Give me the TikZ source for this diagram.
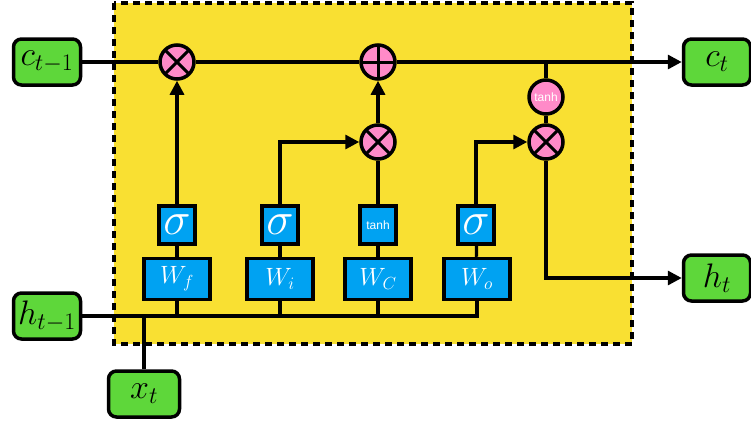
\documentclass[tikz,border=0pt]{standalone}
\usepackage{fix-cm}
\usepackage{fontspec}
\setsansfont{Liberation Sans}
\usetikzlibrary{arrows.meta}
\definecolor{cellyellow}{RGB}{249,224,50}
\definecolor{iogreen}{RGB}{94,215,58}
\definecolor{layerblue}{RGB}{0,162,242}
\definecolor{oppink}{RGB}{255,138,200}

\begin{document}
\begin{tikzpicture}[x=1pt,y=-1pt,
  io/.style={draw,line width=3.5pt,fill=iogreen,rounded corners=8pt,minimum width=67pt,minimum height=46pt,inner sep=0pt,font=\fontsize{34}{34}\selectfont},
  act/.style={draw,line width=3.5pt,fill=layerblue,minimum width=36pt,minimum height=38pt,inner sep=0pt,text=white,font=\fontsize{46}{46}\selectfont},
  wbox/.style={draw,line width=3.5pt,fill=layerblue,minimum width=66pt,minimum height=41pt,inner sep=0pt,text=white,font=\fontsize{25}{25}\selectfont},
  opcircle/.style={circle,draw,line width=3.5pt,fill=oppink,minimum size=34pt,inner sep=0pt},
  mulop/.style={opcircle,path picture={\draw[line width=3pt] (path picture bounding box.north west) -- (path picture bounding box.south east) (path picture bounding box.north east) -- (path picture bounding box.south west);}},
  addop/.style={opcircle,path picture={\draw[line width=3pt] (path picture bounding box.north) -- (path picture bounding box.south) (path picture bounding box.west) -- (path picture bounding box.east);}},
  smalltxt/.style={text=white,font=\sffamily\fontsize{12}{12}\selectfont},
  wire/.style={line width=3.2pt},
  arr/.style={wire,-{Triangle[length=14pt,width=14pt]}}]
\useasboundingbox (0,0) rectangle (751,424);
\draw[line width=3.5pt,dash pattern=on 7pt off 5pt,fill=cellyellow] (114,3) rectangle (632,344);

\node[io] (cprev) at (47,62) {$c_{t-1}$};
\node[io] (cnext) at (717,62) {$c_t$};
\node[io] (hprev) at (47,316) {$h_{t-1}$};
\node[io] (hnext) at (717,278) {$h_t$};
\node[io,minimum width=71pt] (xin) at (144,394) {$x_t$};

\node[mulop] (mulf) at (177,62) {};
\node[addop] (addc) at (378,62) {};
\node[mulop] (muli) at (378,142) {};
\node[mulop] (mulo) at (546,142) {};
\node[opcircle,smalltxt] (tanhy) at (546,97) {tanh};

\node[act] (sigf) at (177,225) {$\sigma$};
\node[act] (sigi) at (280,225) {$\sigma$};
\node[act,smalltxt] (tanhg) at (378,225) {tanh};
\node[act] (sigo) at (476,225) {$\sigma$};

\node[wbox] (Wf) at (177,279) {$W_f$};
\node[wbox] (Wi) at (280,279) {$W_i$};
\node[wbox] (WC) at (378,279) {$W_C$};
\node[wbox] (Wo) at (477,279) {$W_o$};

\draw[wire] (cprev) -- (mulf);
\draw[wire] (mulf) -- (addc);
\draw[arr] (addc) -- (cnext);
\draw[wire] (tanhy) -- (tanhy |- addc);
\draw[wire] (tanhy) -- (mulo);
\draw[arr] (mulo) |- (hnext);

\draw[arr] (sigf) -- (mulf);
\draw[arr] (sigi) |- (muli);
\draw[wire] (tanhg) -- (muli);
\draw[arr] (muli) -- (addc);
\draw[arr] (sigo) |- (mulo);

\foreach \w/\g in {Wf/sigf,Wi/sigi,WC/tanhg,Wo/sigo}
  \draw[wire] (\w) -- (\g);
\draw[wire] (hprev) -- (hprev -| Wo) -- (Wo);
\foreach \w in {Wf,Wi,WC}
  \draw[wire] (\w) -- (\w |- hprev);
\draw[wire] (xin) -- (xin |- hprev);
\end{tikzpicture}
\end{document}
